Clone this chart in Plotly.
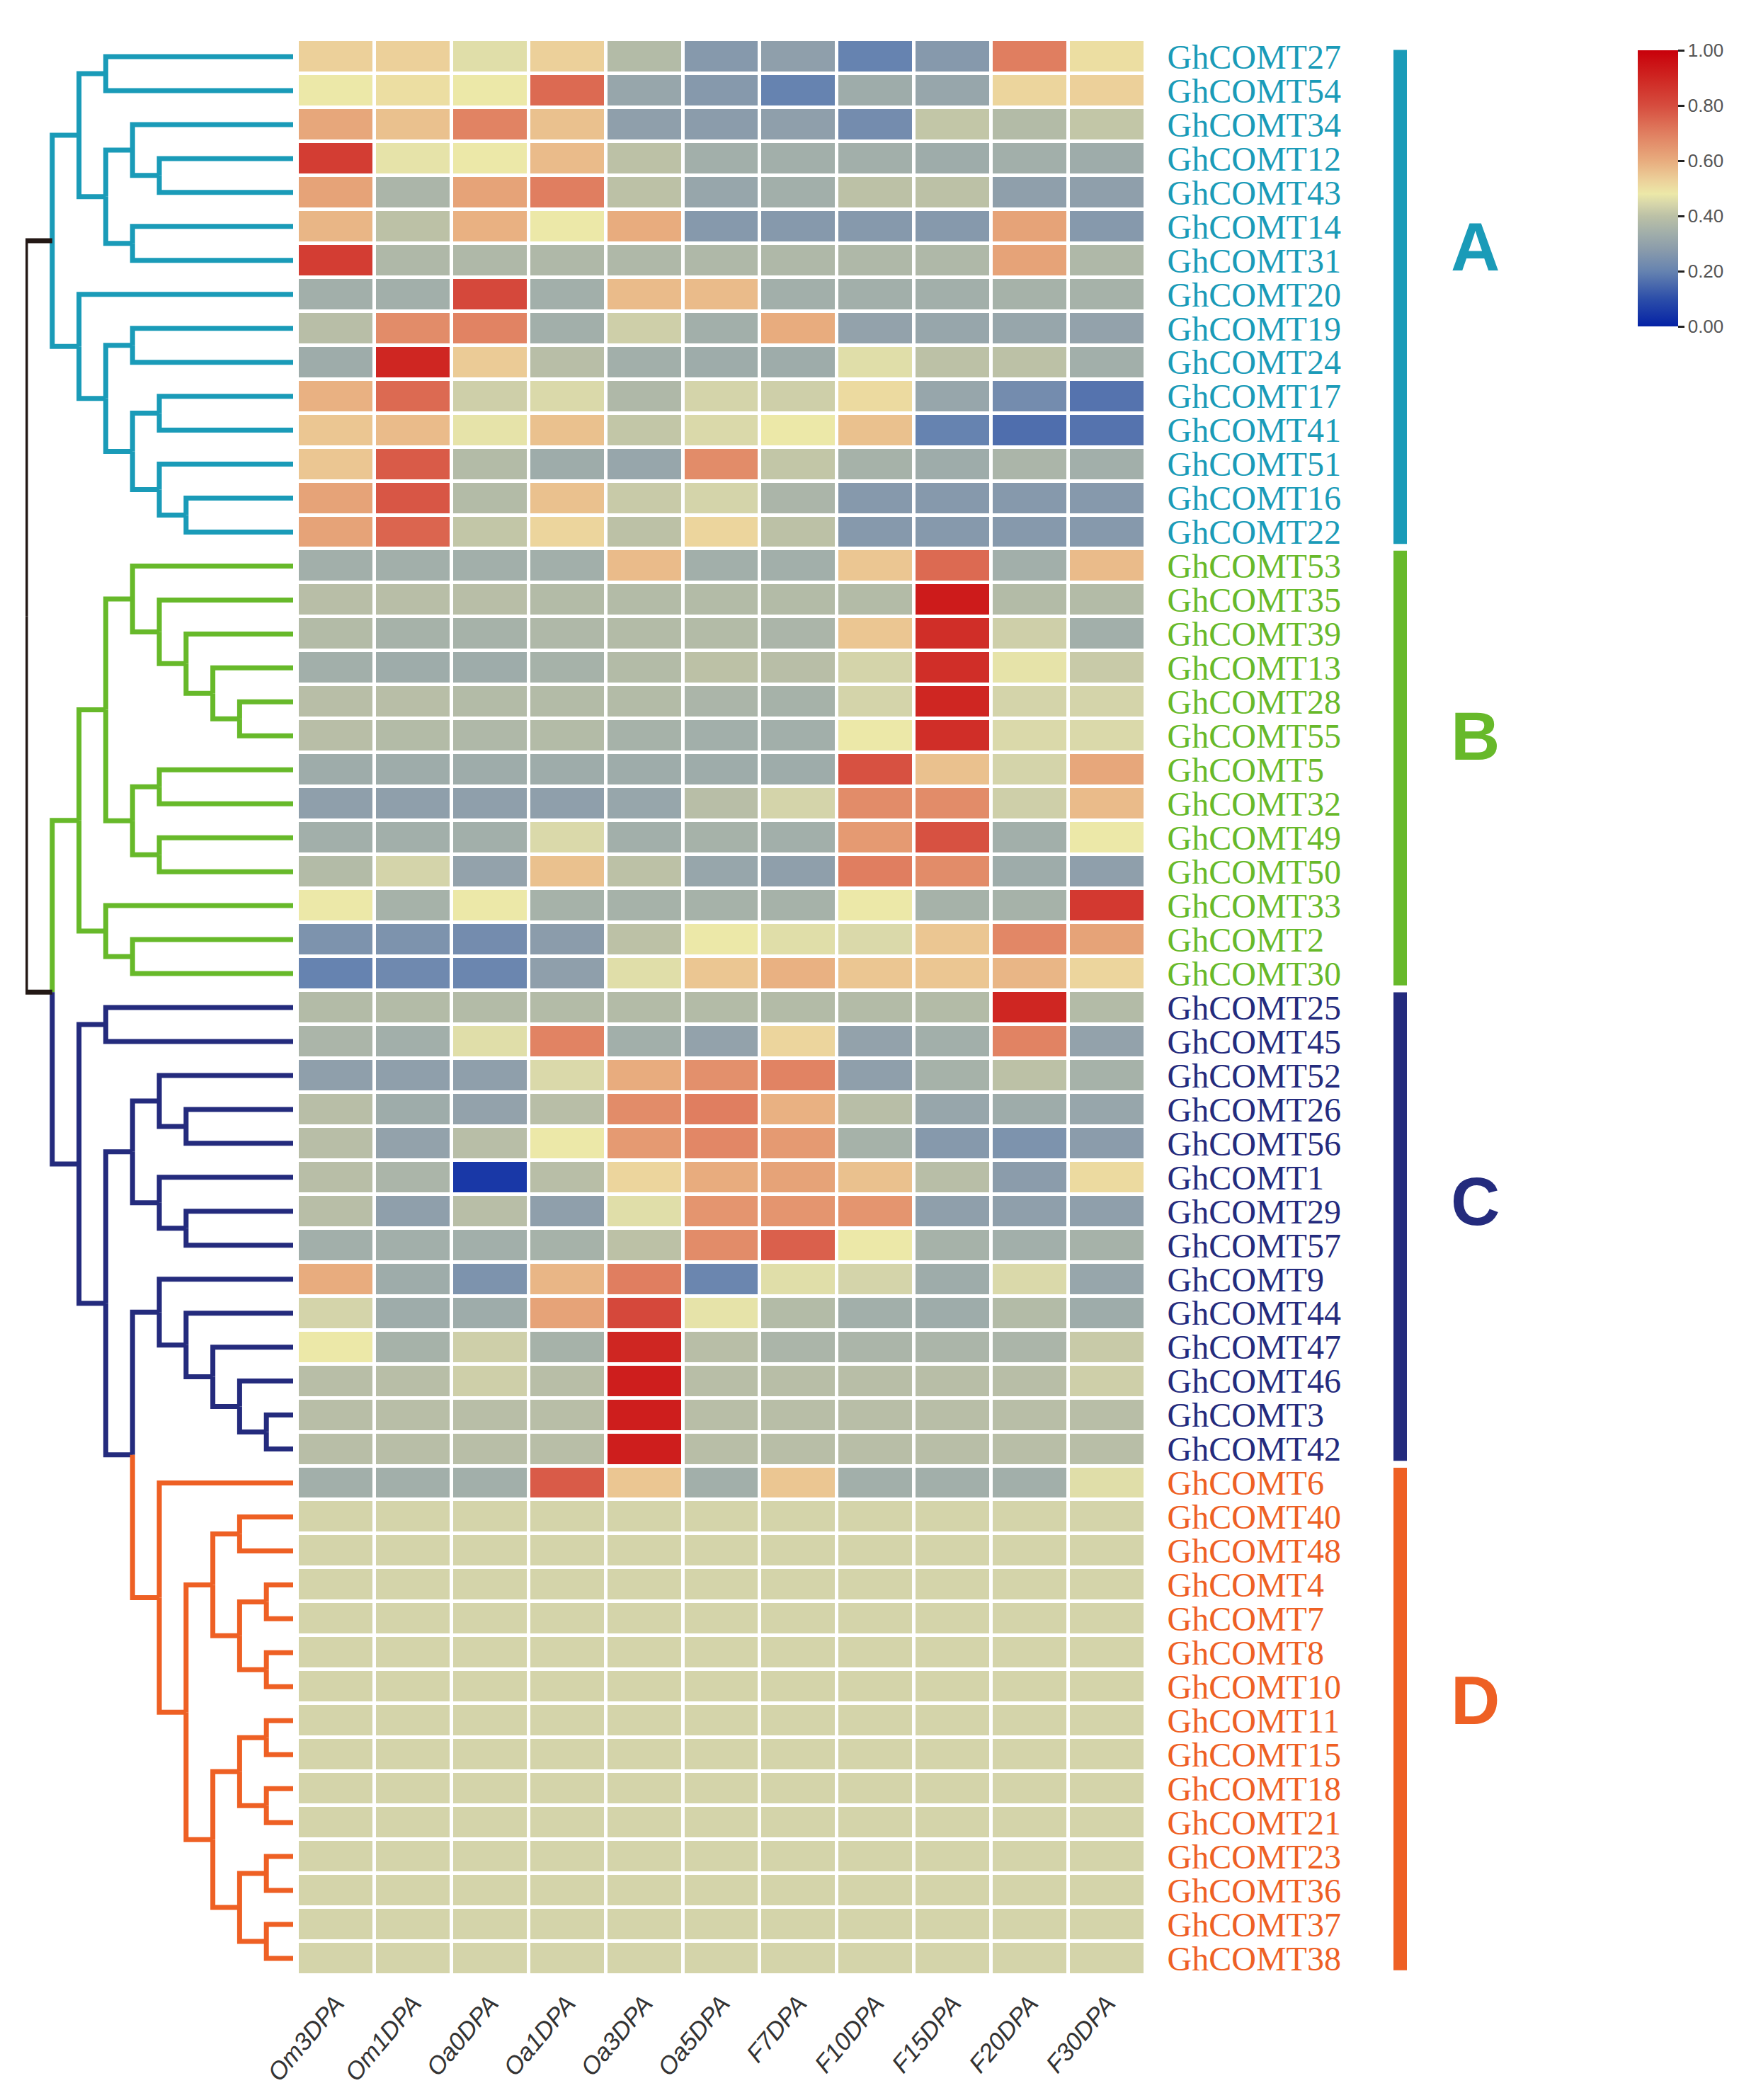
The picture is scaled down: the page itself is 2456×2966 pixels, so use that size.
import plotly.graph_objects as go

# %% data
samples = ["Om3DPA", "Om1DPA", "Oa0DPA", "Oa1DPA", "Oa3DPA", "Oa5DPA",
           "F7DPA", "F10DPA", "F15DPA", "F20DPA", "F30DPA"]

genes_A = ["27", "54", "34", "12", "43", "14", "31", "20", "19", "24", "17", "41", "51", "16", "22"]
genes_B = ["53", "35", "39", "13", "28", "55", "5", "32", "49", "50", "33", "2", "30"]
genes_C = ["25", "45", "52", "26", "56", "1", "29", "57", "9", "44", "47", "46", "3", "42"]
genes_D = ["6", "40", "48", "4", "7", "8", "10", "11", "15", "18", "21", "23", "36", "37", "38"]

values_A = [
    [0.53, 0.53, 0.46, 0.53, 0.38, 0.27, 0.29, 0.20, 0.27, 0.70, 0.50],
    [0.48, 0.50, 0.48, 0.74, 0.31, 0.27, 0.20, 0.33, 0.31, 0.52, 0.53],
    [0.61, 0.56, 0.69, 0.56, 0.29, 0.28, 0.29, 0.23, 0.41, 0.38, 0.41],
    [0.84, 0.47, 0.48, 0.57, 0.40, 0.34, 0.34, 0.34, 0.33, 0.34, 0.33],
    [0.62, 0.36, 0.62, 0.70, 0.40, 0.31, 0.34, 0.40, 0.40, 0.29, 0.29],
    [0.58, 0.40, 0.59, 0.48, 0.60, 0.27, 0.27, 0.27, 0.27, 0.62, 0.27],
    [0.84, 0.37, 0.37, 0.37, 0.37, 0.37, 0.37, 0.37, 0.37, 0.62, 0.37],
    [0.34, 0.34, 0.81, 0.34, 0.57, 0.57, 0.34, 0.34, 0.34, 0.35, 0.35],
    [0.39, 0.67, 0.69, 0.34, 0.43, 0.34, 0.60, 0.30, 0.31, 0.31, 0.30],
    [0.33, 0.90, 0.54, 0.39, 0.34, 0.33, 0.33, 0.46, 0.40, 0.40, 0.34],
    [0.59, 0.74, 0.43, 0.45, 0.37, 0.44, 0.43, 0.51, 0.31, 0.23, 0.17],
    [0.55, 0.57, 0.47, 0.56, 0.41, 0.45, 0.48, 0.56, 0.20, 0.16, 0.17],
    [0.55, 0.77, 0.38, 0.33, 0.31, 0.67, 0.41, 0.35, 0.33, 0.36, 0.34],
    [0.62, 0.78, 0.38, 0.56, 0.42, 0.44, 0.36, 0.27, 0.27, 0.27, 0.27],
    [0.62, 0.75, 0.41, 0.52, 0.40, 0.52, 0.40, 0.27, 0.27, 0.27, 0.27],
]
values_B = [
    [0.34, 0.34, 0.34, 0.34, 0.57, 0.34, 0.34, 0.55, 0.74, 0.34, 0.57],
    [0.39, 0.39, 0.39, 0.38, 0.38, 0.38, 0.38, 0.38, 0.93, 0.38, 0.38],
    [0.38, 0.35, 0.35, 0.37, 0.38, 0.38, 0.36, 0.55, 0.88, 0.43, 0.34],
    [0.34, 0.33, 0.33, 0.35, 0.38, 0.40, 0.39, 0.44, 0.88, 0.47, 0.42],
    [0.39, 0.39, 0.38, 0.38, 0.38, 0.36, 0.35, 0.44, 0.90, 0.44, 0.44],
    [0.39, 0.38, 0.37, 0.38, 0.35, 0.34, 0.34, 0.48, 0.88, 0.45, 0.45],
    [0.33, 0.33, 0.33, 0.33, 0.33, 0.33, 0.33, 0.79, 0.56, 0.44, 0.61],
    [0.29, 0.29, 0.29, 0.29, 0.31, 0.39, 0.44, 0.67, 0.67, 0.43, 0.57],
    [0.34, 0.34, 0.34, 0.45, 0.34, 0.35, 0.34, 0.64, 0.79, 0.34, 0.48],
    [0.38, 0.44, 0.30, 0.56, 0.40, 0.31, 0.29, 0.70, 0.67, 0.33, 0.29],
    [0.48, 0.35, 0.48, 0.35, 0.35, 0.35, 0.35, 0.48, 0.35, 0.35, 0.85],
    [0.25, 0.25, 0.23, 0.28, 0.40, 0.48, 0.46, 0.45, 0.55, 0.68, 0.62],
    [0.20, 0.22, 0.21, 0.29, 0.46, 0.55, 0.59, 0.55, 0.55, 0.58, 0.52],
]
values_C = [
    [0.38, 0.38, 0.38, 0.38, 0.38, 0.38, 0.38, 0.38, 0.38, 0.90, 0.38],
    [0.36, 0.34, 0.46, 0.69, 0.34, 0.30, 0.52, 0.30, 0.34, 0.69, 0.30],
    [0.29, 0.29, 0.29, 0.45, 0.60, 0.66, 0.69, 0.29, 0.35, 0.40, 0.35],
    [0.39, 0.33, 0.30, 0.39, 0.67, 0.70, 0.59, 0.39, 0.31, 0.33, 0.31],
    [0.39, 0.30, 0.39, 0.48, 0.64, 0.68, 0.64, 0.35, 0.27, 0.25, 0.28],
    [0.39, 0.36, 0.05, 0.39, 0.52, 0.60, 0.62, 0.56, 0.39, 0.28, 0.51],
    [0.39, 0.29, 0.39, 0.29, 0.46, 0.65, 0.65, 0.65, 0.29, 0.29, 0.29],
    [0.34, 0.34, 0.34, 0.35, 0.40, 0.67, 0.76, 0.48, 0.35, 0.34, 0.35],
    [0.60, 0.33, 0.25, 0.58, 0.70, 0.21, 0.46, 0.44, 0.33, 0.45, 0.31],
    [0.44, 0.33, 0.33, 0.62, 0.81, 0.47, 0.38, 0.34, 0.33, 0.38, 0.33],
    [0.48, 0.35, 0.43, 0.35, 0.90, 0.39, 0.36, 0.36, 0.36, 0.36, 0.42],
    [0.39, 0.39, 0.43, 0.39, 0.92, 0.39, 0.39, 0.39, 0.39, 0.39, 0.43],
    [0.39, 0.39, 0.39, 0.39, 0.92, 0.39, 0.39, 0.39, 0.39, 0.39, 0.39],
    [0.39, 0.39, 0.39, 0.39, 0.92, 0.39, 0.39, 0.39, 0.39, 0.39, 0.39],
]
values_D = [
    [0.34, 0.34, 0.34, 0.77, 0.55, 0.34, 0.55, 0.34, 0.34, 0.34, 0.46],
    [0.44, 0.44, 0.44, 0.44, 0.44, 0.44, 0.44, 0.44, 0.44, 0.44, 0.44],
    [0.44, 0.44, 0.44, 0.44, 0.44, 0.44, 0.44, 0.44, 0.44, 0.44, 0.44],
    [0.44, 0.44, 0.44, 0.44, 0.44, 0.44, 0.44, 0.44, 0.44, 0.44, 0.44],
    [0.44, 0.44, 0.44, 0.44, 0.44, 0.44, 0.44, 0.44, 0.44, 0.44, 0.44],
    [0.44, 0.44, 0.44, 0.44, 0.44, 0.44, 0.44, 0.44, 0.44, 0.44, 0.44],
    [0.44, 0.44, 0.44, 0.44, 0.44, 0.44, 0.44, 0.44, 0.44, 0.44, 0.44],
    [0.44, 0.44, 0.44, 0.44, 0.44, 0.44, 0.44, 0.44, 0.44, 0.44, 0.44],
    [0.44, 0.44, 0.44, 0.44, 0.44, 0.44, 0.44, 0.44, 0.44, 0.44, 0.44],
    [0.44, 0.44, 0.44, 0.44, 0.44, 0.44, 0.44, 0.44, 0.44, 0.44, 0.44],
    [0.44, 0.44, 0.44, 0.44, 0.44, 0.44, 0.44, 0.44, 0.44, 0.44, 0.44],
    [0.44, 0.44, 0.44, 0.44, 0.44, 0.44, 0.44, 0.44, 0.44, 0.44, 0.44],
    [0.44, 0.44, 0.44, 0.44, 0.44, 0.44, 0.44, 0.44, 0.44, 0.44, 0.44],
    [0.44, 0.44, 0.44, 0.44, 0.44, 0.44, 0.44, 0.44, 0.44, 0.44, 0.44],
    [0.44, 0.44, 0.44, 0.44, 0.44, 0.44, 0.44, 0.44, 0.44, 0.44, 0.44],
]

# cluster tree (leaf = gene number), same leaf order as the rows
tree_D = ("6", ((("40", "48"), (("4", "7"), ("8", "10"))),
                ((("11", "15"), ("18", "21")), (("23", "36"), ("37", "38")))))
tree_A = ((("27", "54"), (("34", ("12", "43")), ("14", "31"))),
          ("20", (("19", "24"), (("17", "41"), ("51", ("16", "22"))))))
tree_B = ((("53", ("35", ("39", ("13", ("28", "55"))))), (("5", "32"), ("49", "50"))),
          ("33", ("2", "30")))
tree_CD = (("25", "45"), ((("52", ("26", "56")), ("1", ("29", "57"))),
                          (("9", ("44", ("47", ("46", ("3", "42"))))), tree_D)))
tree = (tree_A, (tree_B, tree_CD))

cluster_names = ["A", "B", "C", "D"]
cluster_colors = ["#1a9bb8", "#67b92a", "#242b7d", "#ee6024"]

# %% assemble
groups = [genes_A, genes_B, genes_C, genes_D]
genes = genes_A + genes_B + genes_C + genes_D
z = values_A + values_B + values_C + values_D
row_of = {g: i for i, g in enumerate(genes)}
color_of = {}
for grp, col in zip(groups, cluster_colors):
    for g in grp:
        color_of[g] = col

LEAF_X = 10


def first_leaf(node):
    while not isinstance(node, str):
        node = node[0]
    return node


segs = {}


def walk(node, depth, is_root=False):
    if isinstance(node, str):
        return LEAF_X, row_of[node]
    kids = [walk(c, depth + 1) for c in node]
    y = sum(k[1] for k in kids) / len(kids)
    for child, (cx, cy) in zip(node, kids):
        col = "#231815" if is_root else color_of[first_leaf(child)]
        xs, ys = segs.setdefault(col, ([], []))
        xs += [depth, depth, cx, None]
        ys += [y, cy, cy, None]
    return depth, y


walk(tree, 0, is_root=True)

colorscale = [
    [0.00, "#0522a5"], [0.10, "#2c4ea9"], [0.20, "#6683b0"], [0.28, "#8b9cab"],
    [0.34, "#a2afaa"], [0.40, "#bcc1a6"], [0.44, "#d4d4aa"], [0.48, "#ece8a8"],
    [0.53, "#ecd09a"], [0.60, "#e8ac7e"], [0.70, "#e07e60"], [0.80, "#d64c3e"],
    [0.90, "#cf2622"], [1.00, "#c8000a"],
]

W, H = 2456, 2966
top_px, bottom_px = 48, 2782

fig = go.Figure()
fig.add_trace(go.Heatmap(
    z=z, x=list(range(len(samples))), y=list(range(len(genes))),
    zmin=0, zmax=1, colorscale=colorscale, xgap=5, ygap=5,
    colorbar=dict(
        thickness=57, len=410, lenmode="pixels",
        x=2295 / W, xanchor="left", y=1 - 53 / H, yanchor="top",
        outlinewidth=0, ticks="outside", ticklen=9, tickwidth=3, tickcolor="#222",
        tickvals=[0, 0.2, 0.4, 0.6, 0.8, 1.0],
        ticktext=["0.00", "0.20", "0.40", "0.60", "0.80", "1.00"],
        tickfont=dict(family="Liberation Sans", size=26, color="#555"),
    ),
    hoverinfo="skip",
))

for col, (xs, ys) in segs.items():
    fig.add_trace(go.Scatter(x=xs, y=ys, mode="lines", xaxis="x2", yaxis="y",
                             line=dict(color=col, width=7), hoverinfo="skip",
                             showlegend=False))

ticktext = ['<span style="color:%s">GhCOMT%s</span>' % (color_of[g], g) for g in genes]

# cluster bars and letters
letter_shift = [1.4, 1.0, 0.8, 0.6]
start = 0
for grp, name, col, sh in zip(groups, cluster_names, cluster_colors, letter_shift):
    end = start + len(grp) - 1
    y0 = start - (0.2 if start == 0 else 0.45)
    fig.add_shape(type="rect", xref="paper", yref="y", x0=1960 / W, x1=1979 / W,
                  y0=y0, y1=end + 0.35, fillcolor=col, line=dict(width=0))
    fig.add_annotation(xref="paper", yref="y", x=2112 / W, y=(start + end) / 2 - sh,
                       text="<b>%s</b>" % name, showarrow=False,
                       font=dict(family="Liberation Sans", size=96, color=col))
    start = end + 1

fig.update_layout(
    width=W, height=H,
    margin=dict(l=0, r=0, t=0, b=0),
    paper_bgcolor="white", plot_bgcolor="white",
    showlegend=False,
    xaxis=dict(domain=[412 / W, 1610 / W], range=[-0.5, len(samples) - 0.5],
               tickvals=list(range(len(samples))), ticktext=samples,
               tickangle=-50, ticks="outside", ticklen=4, tickcolor="rgba(0,0,0,0)",
               tickfont=dict(family="Liberation Sans", size=35, color="#333", style="italic"),
               showgrid=False, zeroline=False, showline=False, automargin=False),
    xaxis2=dict(domain=[28 / W, 406 / W], range=[0, LEAF_X], anchor="y",
                showticklabels=False, showgrid=False, zeroline=False, showline=False),
    yaxis=dict(domain=[1 - bottom_px / H, 1 - top_px / H],
               range=[len(genes) - 0.5, -0.5], side="right",
               tickvals=list(range(len(genes))), ticktext=ticktext,
               ticks="outside", ticklen=20, tickcolor="rgba(0,0,0,0)",
               tickfont=dict(family="Liberation Serif", size=48),
               showgrid=False, zeroline=False, showline=False, automargin=False),
)

fig.write_html("out.html")
